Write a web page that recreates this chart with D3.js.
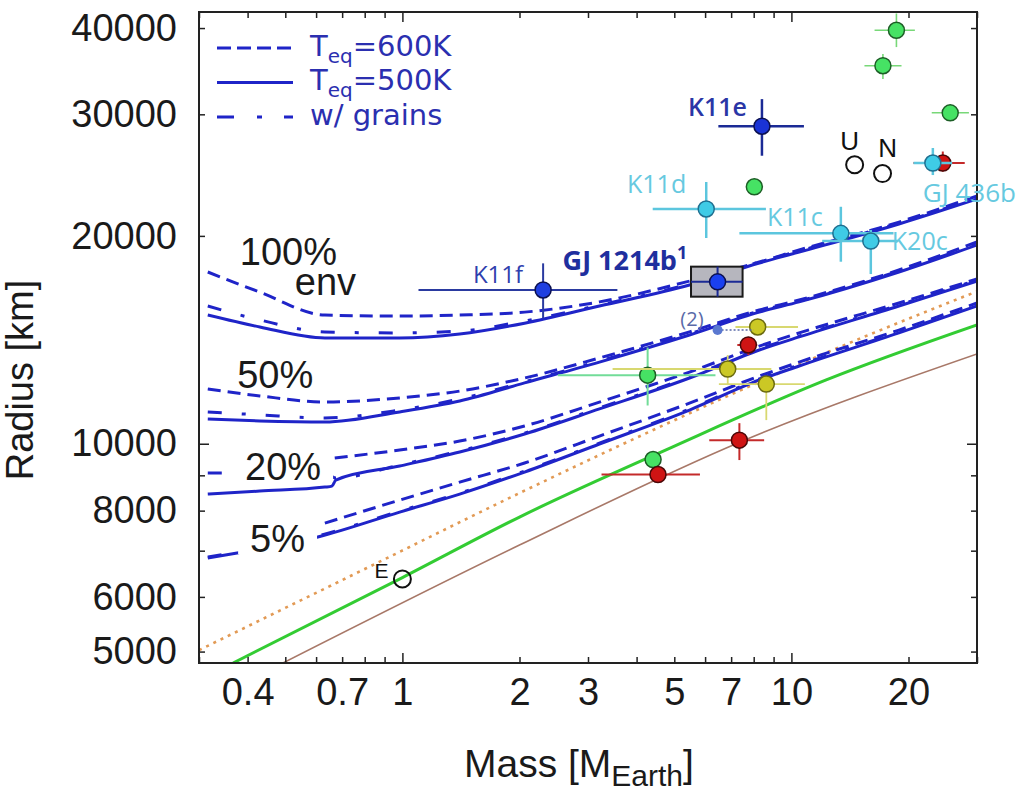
<!DOCTYPE html>
<html>
<head>
<meta charset="utf-8">
<title>Mass–radius relation of low-mass planets</title>
<script src="https://cdn.jsdelivr.net/npm/d3@7/dist/d3.min.js"></script>
<style>
  html, body { margin: 0; padding: 0; background: #ffffff; }
  svg { display: block; }
</style>
</head>
<body>
<svg id="chart" width="1027" height="792"></svg>
<script>
// ---------------------------------------------------------------
// Axes: domains and tick values
// ---------------------------------------------------------------
const massDomain       = [0.3, 30];
const radiusDomain     = [4813, 42200];
const massTickLabels   = [0.4, 0.7, 1, 2, 3, 5, 7, 10, 20];
const massTickMarks    = [0.3, 0.4, 0.5, 0.6, 0.7, 0.8, 0.9, 1, 2, 3, 4, 5, 6, 7, 8, 9, 10, 20, 30];
const massMajorTicks   = [1, 10];
const radiusTickLabels = [5000, 6000, 8000, 10000, 20000, 30000, 40000];
const radiusTickMarks  = [5000, 6000, 7000, 8000, 9000, 10000, 20000, 30000, 40000];
const radiusMajorTicks = [10000];

// ---------------------------------------------------------------
// Envelope models: [mass (M_Earth), radius (km)]
// ---------------------------------------------------------------
const env100_600K = [[0.316,17730],[0.430,16580],[0.632,15360],[0.984,15310],[1.404,15360],[2.061,15510],[3.21,16050],[5.47,17200],[8.27,18330],[10.47,19080],[18.9,20940],[30,22850]];
const env100_500K = [[0.316,15360],[0.430,14760],[0.632,14230],[0.984,14230],[1.404,14420],[2.061,14950],[3.21,15830],[5.47,16980],[8.27,18270],[10.47,18950],[18.9,20810],[30,22620]];
const env100_grains = [[0.316,15830],[0.430,15110],[0.632,14520],[0.984,14470],[1.404,14560],[2.061,15060],[3.21,15880],[5.47,17040],[8.27,18330],[10.47,19020],[18.9,20870],[30,22700]];

const env50_600K = [[0.316,12000],[0.430,11730],[0.632,11490],[0.984,11650],[1.404,11920],[2.061,12450],[3.21,13310],[5.47,14520],[8.27,15620],[10.47,16150],[18.9,17850],[30,19600]];
const env50_500K = [[0.316,10860],[0.430,10790],[0.632,10750],[0.984,11120],[1.404,11530],[2.061,12250],[3.21,13130],[5.47,14370],[8.27,15510],[10.47,16050],[18.9,17730],[30,19400]];
const env50_grains = [[0.316,11120],[0.430,11010],[0.632,10900],[0.984,11190],[1.404,11610],[2.061,12290],[3.21,13180],[5.47,14420],[8.27,15570],[10.47,16090],[18.9,17790],[30,19470]];

const env20_600K = [[0.670,9535],[0.984,9793],[1.404,10090],[2.061,10610],[3.21,11490],[5.47,12700],[8.27,13850],[10.47,14470],[18.9,15990],[30,17320]];
const env20_500K = [[0.316,8454],[0.430,8539],[0.632,8653],[0.659,8681],[0.674,8858],[0.984,9283],[1.404,9728],[2.061,10330],[3.21,11230],[5.47,12450],[8.27,13670],[10.47,14280],[18.9,15830],[30,17200]];
const env20_grains = [[0.316,9068],[0.430,9068],[0.632,9099],[0.674,8918],[0.984,9316],[1.404,9762],[2.061,10360],[3.21,11270],[5.47,12490],[8.27,13720],[10.47,14320],[18.9,15880],[30,17260]];

const env5_600K = [[0.632,7675],[0.984,8286],[1.404,8799],[2.061,9378],[3.21,10260],[5.47,11450],[8.27,12530],[10.47,13130],[18.9,14610],[30,15990]];
const env5_500K = [[0.316,6831],[0.376,6945],[0.606,7326],[0.984,7962],[1.404,8454],[2.061,9099],[3.21,9991],[5.47,11190],[8.27,12370],[10.47,12960],[18.9,14470],[30,15830]];
const env5_grains = [[0.316,6854],[0.376,6968],[0.606,7351],[0.984,7988],[1.404,8482],[2.061,9130],[3.21,10020],[5.47,11230],[8.27,12410],[10.47,13000],[18.9,14520],[30,15880]];

// Bulk compositions without envelope
const compositionDotted = [[0.3,5024],[0.81,6607],[2.0,8482],[3.55,9890],[14.08,13990],[30,16620]];
const compositionEarth  = [[0.367,4813],[1.0,6400],[2.0,7831],[4.94,9890],[12.29,12370],[30,14860]];
const compositionIron   = [[0.493,4813],[2.0,7133],[7.39,10060],[30,13490]];

// ---------------------------------------------------------------
// Observed planets: mass (M_Earth), radius (km), uncertainty ranges
// ---------------------------------------------------------------
const bluePlanets = [
  { name: "K11e", m: 8.40, r: 28830, mLo: 6.49, mHi: 10.77, rLo: 26130, rHi: 31560 },
  { name: "K11f", m: 2.30, r: 16700, mLo: 1.10, mHi: 3.57,  rLo: 15190, rHi: 18250 }
];
const cyanPlanets = [
  { name: "K11d",    m: 6.04, r: 21880, mLo: 4.40, mHi: 8.60, rLo: 19860, rHi: 23940 },
  { name: "K11c",    m: 13.4, r: 20170, mLo: 7.35, mHi: 18.3, rLo: 18350, rHi: 22040 },
  { name: "K20c",    m: 16.0, r: 19660, mLo: 12.0, mHi: 18.8, rLo: 17610, rHi: 20400 },
  { name: "GJ 436b", m: 23.1, r: 25500, mLo: 20.6, mHi: 25.9, rLo: 24500, rHi: 26810 }
];
const gj1214b    = { m: 6.46, r: 17160, mLo: 5.52, mHi: 7.49, rLo: 16330, rHi: 18050 };
const gj1214bAlt = { m: 6.46, r: 14610, mHi: 8.0 };
const yellowPlanets = [
  { m: 8.19, r: 14760, mLo: 7.18, mHi: 10.4 },
  { m: 6.86, r: 12830, mLo: 3.47, mHi: 8.88,  rLo: 12160, rHi: 13440 },
  { m: 8.62, r: 12200, mLo: 6.51, mHi: 10.83, rLo: 10820, rHi: 12530 }
];
const greenPlanets = [
  { m: 4.27,  r: 12570, mLo: 2.51,  mHi: 6.38,  rLo: 11360, rHi: 13780 },
  { m: 4.41,  r: 9487 },
  { m: 8.03,  r: 23560 },
  { m: 18.62, r: 39700, mLo: 16.36, mHi: 20.77, rLo: 37540, rHi: 41990 },
  { m: 17.19, r: 35280, mLo: 15.41, mHi: 19.19, rLo: 33740, rHi: 36690 },
  { m: 25.6,  r: 30150, mLo: 22.95, mHi: 28.6,  rLo: 29490, rHi: 30850 }
];
const redPlanets = [
  { m: 24.5, r: 25500, mLo: 20.6, mHi: 27.9, rLo: 24780, rHi: 26500 },
  { m: 7.75, r: 13900, mLo: 7.26, mHi: 8.17, rLo: 13440, rHi: 14280 },
  { m: 4.54, r: 9023,  mLo: 3.25, mHi: 5.82 },
  { m: 7.35, r: 10120, mLo: 6.15, mHi: 8.51, rLo: 9470,  rHi: 10710 }
];
const solarSystem = [
  { name: "E", m: 1.0,   r: 6371 },
  { name: "U", m: 14.54, r: 25360 },
  { name: "N", m: 17.15, r: 24620 }
];

// Envelope-fraction annotations, anchored in data space (one entry per text block)
const envelopeLabels = [
  { lines: [{ text: "100%", m: 0.382, r: 18150 }, { text: "env", m: 0.529, r: 16420 }] },
  { lines: [{ text: "50%",  m: 0.376, r: 12040 }] },
  { lines: [{ text: "20%",  m: 0.394, r: 8858 }], knockout: true },
  { lines: [{ text: "5%",   m: 0.406, r: 6968 }], knockout: true }
];

// ---------------------------------------------------------------
// Layout and styles
// ---------------------------------------------------------------
const plot = { left: 199, right: 977, top: 12, bottom: 663 };
const axisFont = "'Liberation Sans', Arial, Helvetica, sans-serif";
const labelFont = "'Open Sans', 'DejaVu Sans', sans-serif";
const legendFont = "'DejaVu Sans', 'Open Sans', sans-serif";
const modelBlue = "#1f24c8";

const lineStyles = {
  "600K":   { stroke: modelBlue, width: 3, dash: "13,7",        legendDash: "14,6" },
  "500K":   { stroke: modelBlue, width: 3, dash: null,          legendDash: null },
  "grains": { stroke: modelBlue, width: 3, dash: "14,20,4,20",  legendDash: "17,23,5,22" }
};

const svg = d3.select("#chart");
const x = d3.scaleLog().domain(massDomain).range([plot.left, plot.right]);
const y = d3.scaleLog().domain(radiusDomain).range([plot.bottom, plot.top]);

svg.append("defs").append("clipPath").attr("id", "plot-clip")
  .append("rect")
  .attr("x", plot.left).attr("y", plot.top)
  .attr("width", plot.right - plot.left).attr("height", plot.bottom - plot.top);

const line = d3.line().x(d => x(d[0])).y(d => y(d[1])).curve(d3.curveMonotoneX);
const curves = svg.append("g").attr("clip-path", "url(#plot-clip)");

// bulk compositions
curves.append("path").datum(compositionIron)
  .attr("d", line).attr("fill", "none")
  .attr("stroke", "#a87868").attr("stroke-width", 1.6);
curves.append("path").datum(compositionEarth)
  .attr("d", line).attr("fill", "none")
  .attr("stroke", "#33cc33").attr("stroke-width", 3);
curves.append("path").datum(compositionDotted)
  .attr("d", line).attr("fill", "none")
  .attr("stroke", "#e29a55").attr("stroke-width", 2.6)
  .attr("stroke-dasharray", "3,5");

// envelope models
const models = [
  [env100_600K, "600K"], [env100_grains, "grains"], [env100_500K, "500K"],
  [env50_600K, "600K"],  [env50_grains, "grains"],  [env50_500K, "500K"],
  [env20_600K, "600K"],  [env20_grains, "grains"],  [env20_500K, "500K"],
  [env5_600K, "600K"],   [env5_grains, "grains"],   [env5_500K, "500K"]
];
models.forEach(([data, kind]) => {
  const s = lineStyles[kind];
  curves.append("path").datum(data)
    .attr("d", line).attr("fill", "none")
    .attr("stroke", s.stroke).attr("stroke-width", s.width)
    .attr("stroke-dasharray", s.dash);
});

// envelope-fraction labels (some knock out the curves beneath them)
const envG = svg.append("g");
envelopeLabels.forEach(block => {
  const t = envG.append("text")
    .attr("font-family", axisFont).attr("font-size", 38).attr("fill", "#1a1a1a");
  block.lines.forEach(l => {
    t.append("tspan").attr("x", x(l.m)).attr("y", y(l.r)).text(l.text);
  });
  if (block.knockout) {
    const l = block.lines[0];
    const w = t.node().getComputedTextLength();
    envG.insert("rect", "text")
      .attr("x", x(l.m) - 12).attr("y", y(l.r) - 31)
      .attr("width", w + 24).attr("height", 33)
      .attr("fill", "#ffffff");
  }
});

// ---------------------------------------------------------------
// Axes and frame
// ---------------------------------------------------------------
function styleAxis(g) {
  g.select(".domain").remove();
  g.attr("color", "#222").attr("font-family", axisFont).attr("font-size", 38);
  g.selectAll(".tick line").attr("stroke-width", 1.5);
  g.selectAll(".tick text").attr("fill", "#1a1a1a");
}
const massFmt = d => massTickLabels.includes(d) ? String(d) : "";
const radFmt  = d => radiusTickLabels.includes(d) ? String(d) : "";

const gBottom = svg.append("g").attr("transform", `translate(0,${plot.bottom})`)
  .call(d3.axisBottom(x).tickValues(massTickMarks).tickSizeInner(-6).tickSizeOuter(0).tickPadding(15).tickFormat(massFmt));
styleAxis(gBottom);
gBottom.selectAll(".tick line").filter(d => massMajorTicks.includes(d)).attr("y2", -10);

const gTop = svg.append("g").attr("transform", `translate(0,${plot.top})`)
  .call(d3.axisTop(x).tickValues(massTickMarks).tickSizeInner(-6).tickSizeOuter(0).tickFormat(""));
styleAxis(gTop);
gTop.selectAll(".tick line").filter(d => massMajorTicks.includes(d)).attr("y2", 10);

const gLeft = svg.append("g").attr("transform", `translate(${plot.left},0)`)
  .call(d3.axisLeft(y).tickValues(radiusTickMarks).tickSizeInner(-6).tickSizeOuter(0).tickPadding(22).tickFormat(radFmt));
styleAxis(gLeft);
gLeft.selectAll(".tick line").filter(d => radiusMajorTicks.includes(d)).attr("x2", 10);

const gRight = svg.append("g").attr("transform", `translate(${plot.right},0)`)
  .call(d3.axisRight(y).tickValues(radiusTickMarks).tickSizeInner(-6).tickSizeOuter(0).tickFormat(""));
styleAxis(gRight);
gRight.selectAll(".tick line").filter(d => radiusMajorTicks.includes(d)).attr("x2", -10);

svg.append("rect")
  .attr("x", plot.left).attr("y", plot.top)
  .attr("width", plot.right - plot.left).attr("height", plot.bottom - plot.top)
  .attr("fill", "none").attr("stroke", "#222").attr("stroke-width", 2);

// axis titles
const xTitle = svg.append("text")
  .attr("x", 464).attr("y", 777)
  .attr("font-family", axisFont).attr("font-size", 39).attr("fill", "#1a1a1a");
xTitle.append("tspan").text("Mass [M");
xTitle.append("tspan").attr("font-size", 30).attr("dy", 9).text("Earth");
xTitle.append("tspan").attr("dy", -9).text("]");

svg.append("text")
  .attr("transform", "translate(33,380) rotate(-90)")
  .attr("text-anchor", "middle")
  .attr("font-family", axisFont).attr("font-size", 38).attr("fill", "#1a1a1a")
  .text("Radius [km]");

// ---------------------------------------------------------------
// Observed planets
// ---------------------------------------------------------------
const pts = svg.append("g");
function drawPlanet(p, st) {
  const cx = x(p.m), cy = y(p.r);
  if (p.mLo !== undefined) {
    pts.append("line")
      .attr("x1", x(p.mLo)).attr("x2", x(p.mHi)).attr("y1", cy).attr("y2", cy)
      .attr("stroke", st.bar).attr("stroke-width", st.barWidth);
  }
  if (p.rLo !== undefined) {
    pts.append("line")
      .attr("x1", cx).attr("x2", cx).attr("y1", y(p.rLo)).attr("y2", y(p.rHi))
      .attr("stroke", st.bar).attr("stroke-width", st.barWidth);
  }
  pts.append("circle").attr("cx", cx).attr("cy", cy).attr("r", st.r || 8)
    .attr("fill", st.fill).attr("stroke", st.stroke).attr("stroke-width", 1.5);
}

const greenStyleMain = { bar: "#72dc98", barWidth: 2,   fill: "#46e264", stroke: "#1d5e26" };
const greenStyle     = { bar: "#78d878", barWidth: 1.6, fill: "#46e264", stroke: "#1d5e26" };
const yellowStyle    = { bar: "#d8d870", barWidth: 1.8, fill: "#cbc825", stroke: "#6b6a10" };
const redStyle       = { bar: "#c42a2a", barWidth: 2,   fill: "#cf1414", stroke: "#4a0808" };
const cyanStyle      = { bar: "#5cc6de", barWidth: 2.5, fill: "#3fcbe6", stroke: "#1f6f90" };
const blueStyles = {
  "K11e": { bar: "#1b2a95", barWidth: 2.5, fill: "#1a33d6", stroke: "#0b1050" },
  "K11f": { bar: "#2a3aa0", barWidth: 2,   fill: "#1f3fe0", stroke: "#0b1050" }
};

greenPlanets.forEach((p, i) => drawPlanet(p, i === 0 ? greenStyleMain : greenStyle));
yellowPlanets.forEach(p => drawPlanet(p, yellowStyle));
redPlanets.forEach(p => drawPlanet(p, redStyle));
cyanPlanets.forEach(p => drawPlanet(p, cyanStyle));
bluePlanets.forEach(p => drawPlanet(p, blueStyles[p.name]));

// GJ 1214b: uncertainty box
pts.append("rect")
  .attr("x", x(gj1214b.mLo)).attr("y", y(gj1214b.rHi))
  .attr("width", x(gj1214b.mHi) - x(gj1214b.mLo))
  .attr("height", y(gj1214b.rLo) - y(gj1214b.rHi))
  .attr("fill", "#b6b6be").attr("stroke", "#1a1a1a").attr("stroke-width", 2);
drawPlanet(gj1214b, { bar: "#1b2a95", barWidth: 2, fill: "#1a40f0", stroke: "#0b1050" });

// GJ 1214b, second solution
pts.append("line")
  .attr("x1", x(gj1214bAlt.m)).attr("x2", x(gj1214bAlt.mHi))
  .attr("y1", y(gj1214bAlt.r)).attr("y2", y(gj1214bAlt.r))
  .attr("stroke", "#5a6aa8").attr("stroke-width", 1.5).attr("stroke-dasharray", "2,2");
pts.append("circle").attr("cx", x(gj1214bAlt.m)).attr("cy", y(gj1214bAlt.r)).attr("r", 5)
  .attr("fill", "#5a78d0");

// Solar-system planets
solarSystem.forEach(p => {
  pts.append("circle").attr("cx", x(p.m)).attr("cy", y(p.r)).attr("r", 8.5)
    .attr("fill", "none").attr("stroke", "#111").attr("stroke-width", 2);
});

// ---------------------------------------------------------------
// Planet labels
// ---------------------------------------------------------------
const labelLayout = {
  "K11e":    { dx: -15, dy: -10, anchor: "end",   fill: "#2a36a6", weight: 600, size: 25 },
  "K11f":    { dx: -20, dy: -7,  anchor: "end",   fill: "#2f3fae", weight: 400, size: 24 },
  "K11d":    { dx: -20, dy: -16, anchor: "end",   fill: "#66c9e0", weight: 400, size: 25 },
  "K11c":    { dx: -18, dy: -7,  anchor: "end",   fill: "#66c9e0", weight: 400, size: 25 },
  "K20c":    { dx: 21,  dy: 9,   anchor: "start", fill: "#66c9e0", weight: 400, size: 25 },
  "GJ 436b": { dx: -10, dy: 39,  anchor: "start", fill: "#66c9e0", weight: 400, size: 26 }
};
const labelG = svg.append("g").attr("font-family", labelFont);
[...bluePlanets, ...cyanPlanets].forEach(p => {
  const L = labelLayout[p.name];
  labelG.append("text")
    .attr("x", x(p.m) + L.dx).attr("y", y(p.r) + L.dy)
    .attr("text-anchor", L.anchor).attr("font-size", L.size)
    .attr("font-weight", L.weight).attr("fill", L.fill)
    .text(p.name);
});
const gjLabel = labelG.append("text")
  .attr("x", x(gj1214b.m) - 155).attr("y", y(gj1214b.r) - 12)
  .attr("font-size", 27).attr("font-weight", 700).attr("fill", "#1f2f9e");
gjLabel.append("tspan").text("GJ 1214b");
gjLabel.append("tspan").attr("font-size", 18).attr("dy", -11).text("1");

labelG.append("text")
  .attr("x", x(gj1214bAlt.m) - 14).attr("y", y(gj1214bAlt.r) - 4)
  .attr("text-anchor", "end").attr("font-size", 20).attr("fill", "#5a6aa8")
  .text("(2)");

const solarLayout = { "E": { dx: -14, dy: -1, size: 21 }, "U": { dx: -5, dy: -15, size: 26 }, "N": { dx: 5, dy: -17, size: 26 } };
solarSystem.forEach(p => {
  const L = solarLayout[p.name];
  svg.append("text")
    .attr("x", x(p.m) + L.dx).attr("y", y(p.r) + L.dy)
    .attr("text-anchor", p.name === "E" ? "end" : "middle")
    .attr("font-family", axisFont).attr("font-size", L.size).attr("fill", "#111")
    .text(p.name);
});

// ---------------------------------------------------------------
// Legend: sample lines plus one stacked text block
// ---------------------------------------------------------------
const legendItems = [
  { kind: "600K",   main: "T", sub: "eq", rest: "=600K" },
  { kind: "500K",   main: "T", sub: "eq", rest: "=500K" },
  { kind: "grains", main: "w/ grains" }
];
const legend = svg.append("g");
const legendText = legend.append("text")
  .attr("font-family", legendFont).attr("font-size", 29).attr("fill", "#2b2fb0");
legendItems.forEach((item, i) => {
  const ly = 48 + i * 34.5;
  const s = lineStyles[item.kind];
  legend.append("line")
    .attr("x1", 217).attr("x2", 293).attr("y1", ly).attr("y2", ly)
    .attr("stroke", s.stroke).attr("stroke-width", s.width)
    .attr("stroke-dasharray", s.legendDash);
  legendText.append("tspan").attr("x", 310).attr("y", ly + 7.5).text(item.main);
  if (item.sub) {
    legendText.append("tspan").attr("font-size", 20).attr("dy", 7).text(item.sub);
    legendText.append("tspan").attr("dy", -7).text(item.rest);
  }
});
</script>
</body>
</html>
